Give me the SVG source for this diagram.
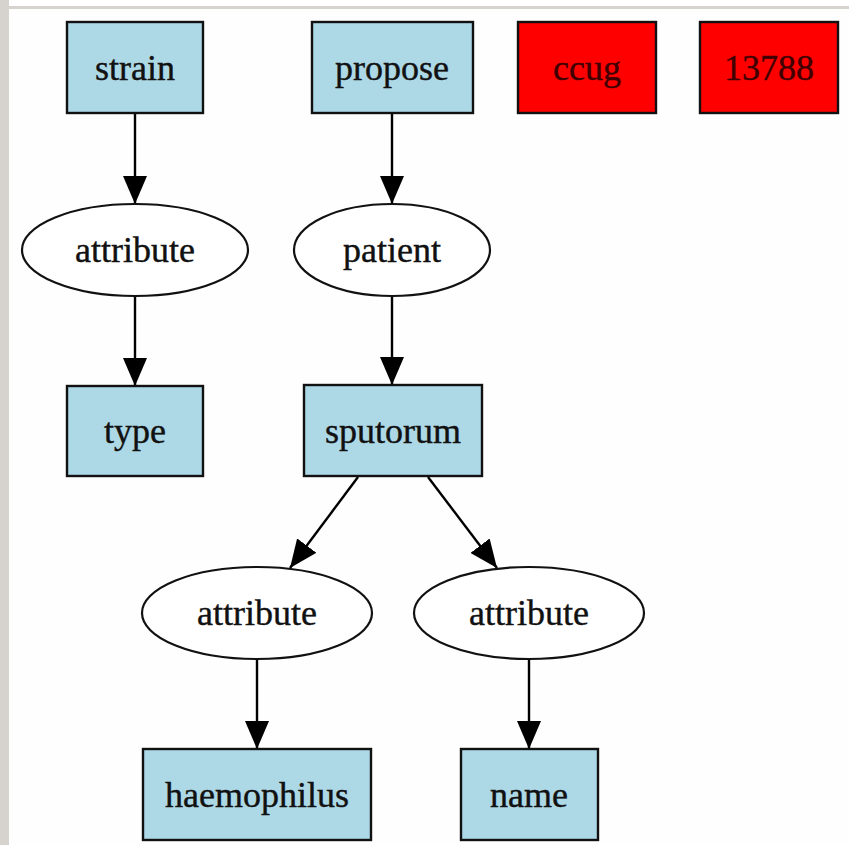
<svg xmlns="http://www.w3.org/2000/svg" width="849" height="845" viewBox="0 0 849 845">
<style>
.box{fill:#add8e6;stroke:#111;stroke-width:2.4}
.red{fill:#ff0000;stroke:#111;stroke-width:2.4}
.ell{fill:#ffffff;stroke:#111;stroke-width:2.2}
.lbl{font-family:"Liberation Serif","Times New Roman",serif;font-size:36px;fill:#111;stroke:#111;stroke-width:0.4;text-anchor:middle}
.lblr{font-family:"Liberation Serif","Times New Roman",serif;font-size:36px;fill:#400000;stroke:#400000;stroke-width:0.4;text-anchor:middle}
.edge{stroke:#000;stroke-width:2.4;fill:none;marker-end:url(#arr)}
</style>
<defs>
<marker id="arr" viewBox="0 0 28 24" refX="28" refY="12" markerWidth="28" markerHeight="24" markerUnits="userSpaceOnUse" orient="auto">
<path d="M0,0 L28,12 L0,24 z" fill="#000"/>
</marker>
</defs>
<rect x="0" y="0" width="849" height="845" fill="#fdfefd"/>
<rect x="0" y="0" width="849" height="7" fill="#ffffff"/>
<rect x="0" y="6" width="849" height="3" fill="#d6d3ce"/>
<rect x="0" y="0" width="9" height="845" fill="#d6d3ce"/>

<g id="connectors">
<line class="edge" x1="135" y1="113" x2="135" y2="204"/>
<line class="edge" x1="392" y1="113" x2="392" y2="204"/>
<line class="edge" x1="135" y1="296" x2="135" y2="386"/>
<line class="edge" x1="392" y1="296" x2="392" y2="385"/>
<line class="edge" x1="358" y1="477" x2="290" y2="568"/>
<line class="edge" x1="428" y1="477" x2="497" y2="568"/>
<line class="edge" x1="257" y1="659" x2="257" y2="749"/>
<line class="edge" x1="529" y1="659" x2="529" y2="749"/>
</g>

<g id="strain"><rect class="box" x="67" y="22" width="136" height="91"/><text class="lbl" x="135" y="80">strain</text></g>
<g id="propose"><rect class="box" x="312" y="22" width="161" height="91"/><text class="lbl" x="392" y="80">propose</text></g>
<g id="ccug"><rect class="red" x="518" y="22" width="138" height="91"/><text class="lblr" x="587" y="80">ccug</text></g>
<g id="n13788"><rect class="red" x="700" y="22" width="138" height="91"/><text class="lblr" x="769" y="80">13788</text></g>
<g id="attribute1"><ellipse class="ell" cx="135" cy="250" rx="113" ry="46"/><text class="lbl" x="135" y="262">attribute</text></g>
<g id="patient"><ellipse class="ell" cx="392" cy="250" rx="98" ry="46"/><text class="lbl" x="392" y="262">patient</text></g>
<g id="type"><rect class="box" x="67" y="386" width="136" height="90"/><text class="lbl" x="135" y="443">type</text></g>
<g id="sputorum"><rect class="box" x="304" y="385" width="178" height="91"/><text class="lbl" x="393" y="443">sputorum</text></g>
<g id="attribute2"><ellipse class="ell" cx="257" cy="613" rx="115" ry="46"/><text class="lbl" x="257" y="625">attribute</text></g>
<g id="attribute3"><ellipse class="ell" cx="529" cy="613" rx="115" ry="46"/><text class="lbl" x="529" y="625">attribute</text></g>
<g id="haemophilus"><rect class="box" x="143" y="749" width="228" height="91"/><text class="lbl" x="257" y="807">haemophilus</text></g>
<g id="name"><rect class="box" x="461" y="749" width="137" height="91"/><text class="lbl" x="529" y="807">name</text></g>
</svg>
